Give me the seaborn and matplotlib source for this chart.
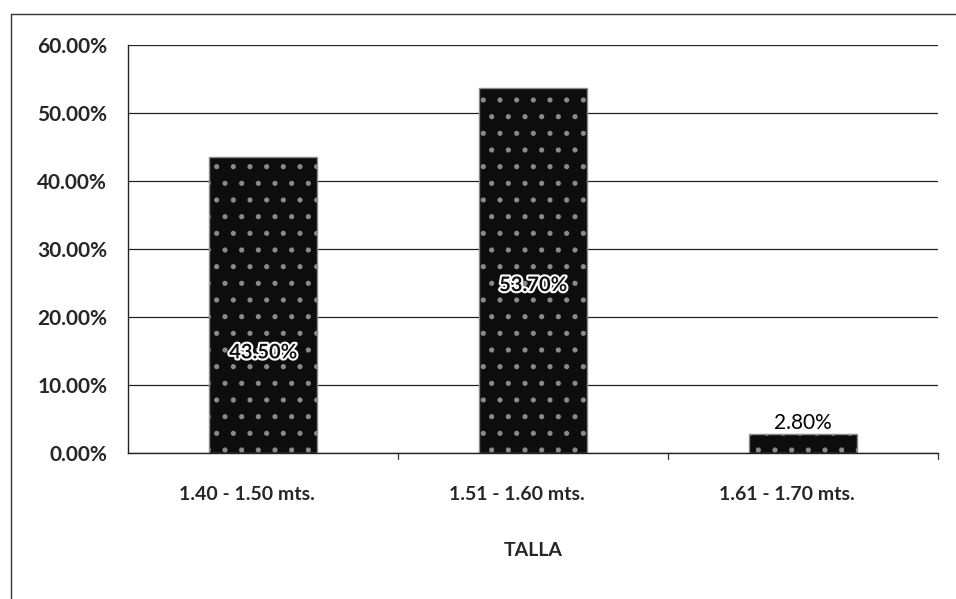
import matplotlib
matplotlib.use("Agg")
import matplotlib.pyplot as plt
import matplotlib.patheffects as pe
import matplotlib.transforms as mtransforms
import seaborn as sns
import pandas as pd

categories = ["1.40 - 1.50 mts.", "1.51 - 1.60 mts.", "1.61 - 1.70 mts."]
values = [43.50, 53.70, 2.80]
yticks = [0, 10, 20, 30, 40, 50, 60]

sns.set_theme(style="white")
plt.rcParams["font.family"] = ["Lato", "DejaVu Sans"]
plt.rcParams["hatch.linewidth"] = 1.3

df = pd.DataFrame({"talla": categories, "pct": values})

fig = plt.figure(figsize=(9.56, 5.99), dpi=100)
ax = fig.add_axes([0.134, 0.2437, 0.847, 0.681])

sns.barplot(data=df, x="talla", y="pct", ax=ax, color="#0d0d0d",
            width=0.4, saturation=1, edgecolor="#8a8a8a", linewidth=1.0)
for bar in ax.patches:
    bar.set_hatch(".")

ax.set_ylim(0, 60)
ax.set_xlim(-0.5, 2.5)
ax.set_yticks(yticks)
ax.set_yticklabels([f"{v:.2f}%" for v in yticks], fontsize=15, fontweight="bold")
ax.tick_params(axis="y", length=0, pad=15)
ax.set_xticks([0, 1, 2])
ax.set_xticklabels(categories, fontsize=14, fontweight="bold")
ax.tick_params(axis="x", length=0, pad=24)
shift = mtransforms.ScaledTranslation(-16 / 100, 0, fig.dpi_scale_trans)
for lbl in ax.get_xticklabels():
    lbl.set_transform(lbl.get_transform() + shift)
ax.set_xlabel("TALLA", fontsize=14, fontweight="bold", labelpad=28)
ax.set_ylabel("")

ax.grid(axis="y", color="#222222", linewidth=0.9)
ax.set_axisbelow(True)
for s in ["top", "right"]:
    ax.spines[s].set_visible(False)
for s in ["left", "bottom"]:
    ax.spines[s].set_color("#222222")
    ax.spines[s].set_linewidth(1.0)

# category separator ticks under the axis
for xb in [0.5, 1.5, 2.5]:
    ax.plot([xb, xb], [0, -0.9], color="#333333", lw=0.9, clip_on=False)

# value labels: inside the two tall bars, above the short one
inside_y = {0: 14.8, 1: 24.7}
for i, v in enumerate(values):
    if i in inside_y:
        ax.text(i, inside_y[i], f"{v:.2f}%", ha="center", va="center", fontsize=14.5,
                fontweight="bold", color="#111111",
                path_effects=[pe.withStroke(linewidth=3, foreground="white")])
    else:
        ax.text(i, v + 0.1, f"{v:.2f}%", ha="center", va="bottom", fontsize=15,
                color="black")

# outer frame: left and top edges
fig.add_artist(plt.Line2D([0.011, 0.011], [0.0, 0.977], transform=fig.transFigure,
                          color="#333333", linewidth=1.0))
fig.add_artist(plt.Line2D([0.011, 1.0], [0.977, 0.977], transform=fig.transFigure,
                          color="#333333", linewidth=1.0))

fig.savefig("out.png", dpi=100)
